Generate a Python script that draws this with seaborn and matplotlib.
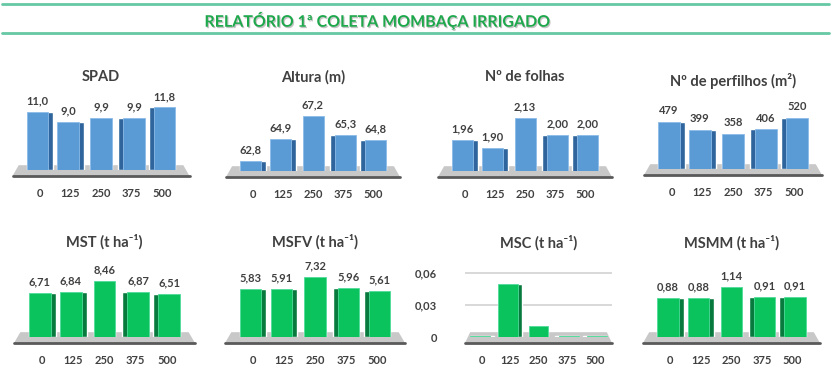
import numpy as np
import pandas as pd
import seaborn as sns
import matplotlib
matplotlib.use("Agg")
import matplotlib.pyplot as plt
from matplotlib.patches import Polygon
from matplotlib.lines import Line2D
import matplotlib.patheffects as pe

# ---------------- data ----------------
doses = ["0", "125", "250", "375", "500"]
spad = [11.0, 9.0, 9.9, 9.9, 11.8]
altura = [62.8, 64.9, 67.2, 65.3, 64.8]
folhas = [1.96, 1.90, 2.13, 2.00, 2.00]
perfilhos = [479, 399, 358, 406, 520]
mst = [6.71, 6.84, 8.46, 6.87, 6.51]
msfv = [5.83, 5.91, 7.32, 5.96, 5.61]
msc = [0.001, 0.05, 0.01, 0.001, 0.001]
msmm = [0.88, 0.88, 1.14, 0.91, 0.91]

titles = ["SPAD", "Altura (m)", "Nº de folhas", "Nº de perfilhos (m²)",
          "MST (t ha⁻¹)", "MSFV (t ha⁻¹)", "MSC (t ha⁻¹)", "MSMM (t ha⁻¹)"]
main_title = "RELATÓRIO 1ª COLETA MOMBAÇA IRRIGADO"
msc_ticks = [0, 0.03, 0.06]
msc_ticklabels = ["0", "0,03", "0,06"]

# ---------------- style ----------------
sns.set_theme(style="white")
plt.rcParams["font.family"] = ["Lato", "DejaVu Sans"]

W, H = 831, 370
fig = plt.figure(figsize=(W / 100, H / 100), dpi=100)
fig.patch.set_facecolor("white")

BLUE_F, BLUE_S, BLUE_E = "#5b9bd5", "#2f659c", "#8cbcea"
GREEN_F, GREEN_S, GREEN_E = "#0bc35c", "#087a3e", "#4fdc9a"
TXT = "#404040"

AX_H = 80
# (values, fmt, colors, left_px, width_px, bottom_px, ylim, title_y)
panels = [
    (spad, "{:.1f}", "b", 12.5, 177, 170, (0, 15.1), 77),
    (altura, "{:.1f}", "b", 226, 174, 171, (61.8, 69.6), 77),
    (folhas, "{:.2f}", "b", 438, 174, 171, (1.72, 2.335), 77),
    (perfilhos, "{:.0f}", "b", 644, 178, 169, (0, 816), 81),
    (mst, "{:.2f}", "g", 14, 181, 337, (0, 12.1), 242),
    (msfv, "{:.2f}", "g", 225, 180, 337, (0, 9.75), 242),
    (msc, None, "g", 465, 147, 337, (0, 0.075), 243),
    (msmm, "{:.2f}", "g", 643, 177, 337, (0, 1.82), 243),
]

for k, (vals, fmt, col, lpx, wpx, bpx, ylim, ty) in enumerate(panels):
    fcol, scol, ecol = (BLUE_F, BLUE_S, BLUE_E) if col == "b" else (GREEN_F, GREEN_S, GREEN_E)
    n = len(doses)
    pad_units = 0.9 if k != 6 else 0.6
    ax = fig.add_axes([lpx / W, (H - bpx) / H, wpx / W, AX_H / H])
    ax.set_facecolor("none")
    df = pd.DataFrame({"dose": doses, "v": vals})

    if k == 6:
        ax.set_yticks(msc_ticks)
        ax.set_yticklabels(msc_ticklabels)
        for t in msc_ticks[1:]:
            ax.axhline(t, color="#d6d6d6", lw=1.3, zorder=0.2)
        ax.tick_params(axis="y", length=0, pad=20, labelsize=8, labelcolor=TXT)
        for lab in ax.get_yticklabels():
            lab.set_fontweight("bold")
    else:
        ax.set_yticks([])

    # side faces (darker, wider) then front faces
    sns.barplot(data=df, x="dose", y="v", ax=ax, color=scol, saturation=1,
                width=0.86, zorder=2, errorbar=None)
    sns.barplot(data=df, x="dose", y="v", ax=ax, color=fcol, saturation=1,
                width=0.70, zorder=3, errorbar=None, edgecolor=ecol, linewidth=0.6)
    side = ax.patches[:n]
    front = ax.patches[n:2 * n]
    for i in range(n):
        s, f = side[i], front[i]
        if i < n // 2:
            f.set_x(s.get_x())
        elif i > n // 2:
            f.set_x(s.get_x() + s.get_width() - f.get_width())
        else:
            s.set_width(f.get_width())
            s.set_x(f.get_x())

    ax.set_ylim(*ylim)
    ax.set_xlim(-pad_units, n - 1 + pad_units)
    for sp in ax.spines.values():
        sp.set_visible(False)
    ax.set_xlabel("")
    ax.set_ylabel("")
    ax.tick_params(axis="x", length=0, pad=13, labelsize=8, labelcolor=TXT)
    for lab in ax.get_xticklabels():
        lab.set_fontweight("bold")

    # floor platform
    floor = Polygon([(0, -0.075), (1, -0.075), (0.965, 0.06), (0.035, 0.06)],
                    closed=True, transform=ax.transAxes, facecolor="#c8c8c8",
                    edgecolor="none", clip_on=False, zorder=1)
    ax.add_patch(floor)
    ax.add_line(Line2D([0, 1], [-0.075, -0.075], transform=ax.transAxes,
                       color="#5a5a5a", lw=2, clip_on=False, zorder=1.5))

    if fmt is not None:
        labels = [fmt.format(v).replace(".", ",") for v in vals]
        ax.bar_label(ax.containers[1], labels=labels, padding=4, fontsize=8,
                     color=TXT, fontweight="bold")

    fig.text((lpx + wpx / 2) / W, 1 - ty / H, titles[k], ha="center", va="center",
             fontsize=10.5, fontweight="bold", color=TXT)

# main title and rules
fig.text(377 / W, 1 - 21 / H, main_title, ha="center", va="center", fontsize=11.5,
         fontweight="bold", color="#1ea84c",
         path_effects=[pe.withSimplePatchShadow(offset=(0.8, -1), shadow_rgbFace="#888888", alpha=0.5)])
for yy in (4, 33):
    fig.add_artist(Line2D([2 / W, 829 / W], [1 - yy / H] * 2, transform=fig.transFigure,
                          color="#66c8a4", lw=2))

fig.savefig("out.png", dpi=100, facecolor="white")
